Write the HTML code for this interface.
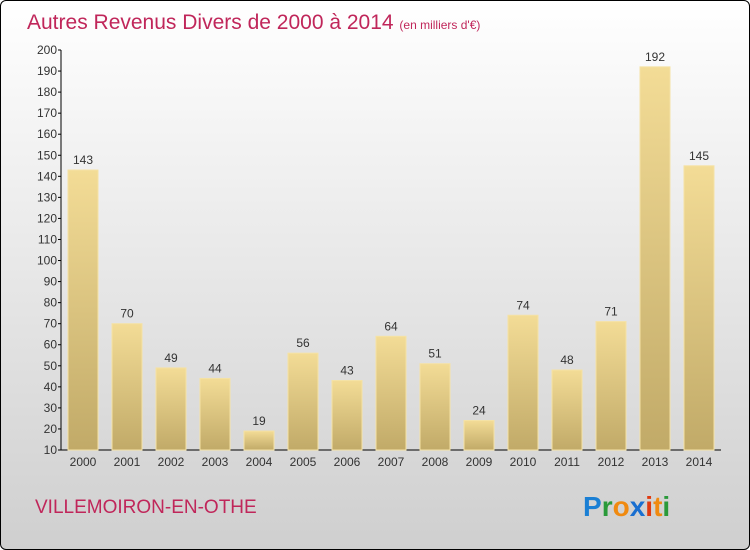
<!DOCTYPE html>
<html><head><meta charset="utf-8"><style>
html,body{margin:0;padding:0;width:750px;height:550px;overflow:hidden;font-family:"Liberation Sans",sans-serif}
#frame{position:absolute;left:0;top:0;width:748px;height:548px;border:1px solid #000;border-radius:6px;background:linear-gradient(#ffffff,#cfcfcf)}
</style></head><body>
<div id="frame"></div>
<svg id="chart" width="750" height="550" style="position:absolute;left:0;top:0">
<defs><linearGradient id="bg" x1="0" y1="0" x2="0" y2="1"><stop offset="0" stop-color="#f3dc96"/><stop offset="1" stop-color="#c1aa68"/></linearGradient></defs>
<text x="27" y="29" font-size="21" fill="#c0265a">Autres Revenus Divers de 2000 à 2014 <tspan font-size="12">(en milliers d'€)</tspan></text>
<text x="35" y="513" font-size="19" fill="#c0265a">VILLEMOIRON-EN-OTHE</text>
<g font-size="28" font-weight="bold">
<text x="583" y="516"><tspan fill="#1a7fd4">P</tspan><tspan fill="#2a9a3a">r</tspan><tspan fill="#f08a10">o</tspan><tspan fill="#1a6fd0">x</tspan><tspan fill="#e03a10">i</tspan><tspan fill="#f08a10">t</tspan><tspan fill="#2a9a3a">i</tspan></text></g>
<g id="axes"></g><g id="bars"></g>
</svg>
<script>
const categories=["2000","2001","2002","2003","2004","2005","2006","2007","2008","2009","2010","2011","2012","2013","2014"];
const values=[143,70,49,44,19,56,43,64,51,24,74,48,71,192,145];
const yTicks=[10,20,30,40,50,60,70,80,90,100,110,120,130,140,150,160,170,180,190,200];
const NS="http://www.w3.org/2000/svg";
function y(v){return 450-(v-10)*400/190;}
function x(i){return 68+i*44;}
function mk(t,a,p){const e=document.createElementNS(NS,t);for(const k in a)e.setAttribute(k,a[k]);p.appendChild(e);return e;}
const ax=document.getElementById('axes'),bg=document.getElementById('bars');
const yl=mk('line',{x1:61,y1:50,x2:61,y2:450,stroke:'#000'},ax);


const xl=mk('line',{x1:61,y1:450,x2:721,y2:450,stroke:'#000'},ax);


yTicks.forEach(v=>{
 mk('line',{x1:58,x2:61,y1:y(v),y2:y(v),stroke:'#000'},ax);
 const t=mk('text',{x:57,y:y(v)+4,'font-size':12,'text-anchor':'end',fill:'#333'},ax);
 t.textContent=v;
 
 
});
categories.forEach((c,i)=>{
 const v=values[i];
 const r=mk('rect',{x:x(i),y:y(v),width:30,height:450-y(v),fill:'url(#bg)',stroke:'#f5e2a5','stroke-width':1},bg);
 
 
 const l=mk('text',{x:x(i)+15,y:y(v)-6,'font-size':12,'text-anchor':'middle',fill:'#333'},bg);
 l.textContent=v;
 
 
 const xt=mk('text',{x:x(i)+15,y:466,'font-size':12,'text-anchor':'middle',fill:'#333'},ax);
 xt.textContent=c;
 
 
});
</script>
</body></html>
